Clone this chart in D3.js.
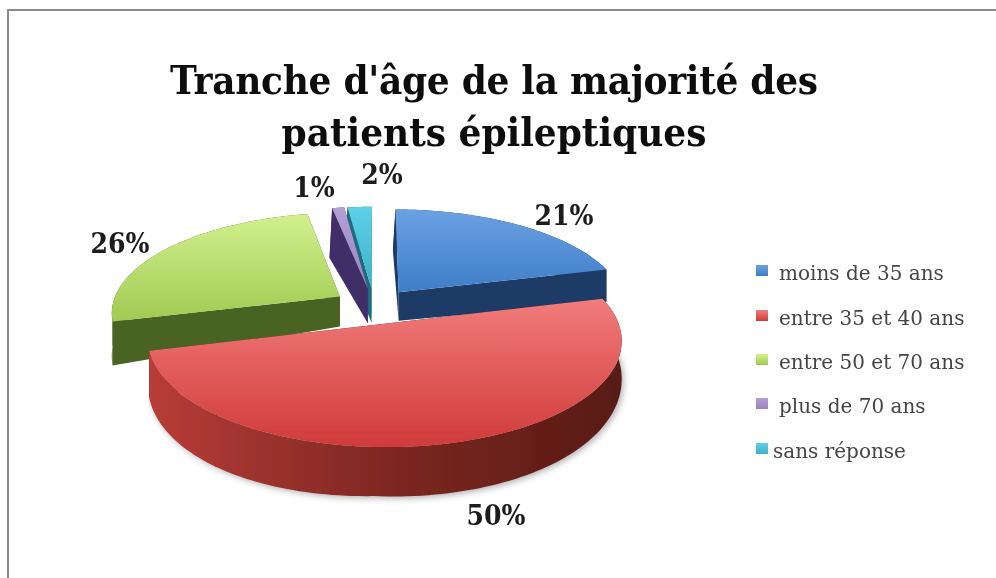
<!DOCTYPE html>
<html>
<head>
<meta charset="utf-8">
<script src="https://cdn.jsdelivr.net/npm/d3@7"></script>
<style>
  body { margin: 0; background: #fff; }
  text { font-family: "DejaVu Serif Condensed", "DejaVu Serif", serif; }
  .legend-label { font-family: "DejaVu Serif", serif; }
</style>
</head>
<body>
<div id="chart"></div>
<script>
// Chart data
var categories = ["moins de 35 ans", "entre 35 et 40 ans", "entre 50 et 70 ans", "plus de 70 ans", "sans réponse"];
var values = [21, 50, 26, 1, 2];
var titleLines = ["Tranche d'âge de la majorité des", "patients épileptiques"];

// Colours: face top, face bottom, wall light, wall dark
var faceTop = ["#6ba1e2", "#f27c7c", "#d2f08e", "#b3a0d2", "#5fd0e6"];
var faceBottom = ["#3f7dc8", "#d03a3a", "#a0ca52", "#9a84c2", "#3cb0cc"];
var wallLight = ["#1c3a66", "#b83c38", "#4a6320", "#3f2d68", "#1e6c80"];
var wallDark = ["#1c3a66", "#581a14", "#4a6320", "#3f2d68", "#1e6c80"];

var labelPos = [[564, 225], [496, 525], [120, 253], [314, 197], [382, 184]];
var legendY = [270, 315, 359, 403, 448];
var legendTextX = [779, 779, 779, 779, 773];
var titleWidth = [648, 425];

var width = 996, height = 578;

// Pie layout in ground coordinates, projected with a bit of perspective
var cx = 374, cy = 306, rxBase = 228, ryBase = 99, persp = 0.15, explode = 0.18;
var extraDepth = [0, 0, 0, 6, 6]; // the two thin slices reach down to the big one

function project(u, v) {
  var s = 1 / (1 - persp * v);
  return [cx + rxBase * u * s, cy + ryBase * v * s];
}

// thickness of the slab varies around the pie, like the 3D renderer in the original
function lower(u, v, extra) {
  var p = project(u, v);
  var d = 28 + extra + 18 * Math.max(v, 0) + 12 * Math.max(-u, 0) + 4 * Math.max(u, 0) + 20 * Math.max(-v - 0.5, 0);
  return [p[0] - 4 * Math.max(-v - 0.5, 0), p[1] + d];
}

var svg = d3.select("#chart")
  .append("svg")
  .attr("width", width)
  .attr("height", height)
  .style("display", "block");

var defs = svg.append("defs");

defs.append("filter").attr("id", "soft").append("feGaussianBlur").attr("stdDeviation", 0.45);
defs.append("filter").attr("id", "shade")
  .attr("x", "-10%").attr("y", "-10%").attr("width", "120%").attr("height", "120%")
  .append("feGaussianBlur").attr("stdDeviation", 3);

values.forEach(function(d, i) {
  var g = defs.append("linearGradient").attr("id", "face" + i)
    .attr("x1", 0).attr("y1", 0).attr("x2", 0).attr("y2", 1);
  g.append("stop").attr("offset", 0).attr("stop-color", faceTop[i]);
  g.append("stop").attr("offset", 1).attr("stop-color", faceBottom[i]);
  var w = defs.append("linearGradient").attr("id", "wall" + i)
    .attr("x1", 0).attr("y1", 0).attr("x2", 1).attr("y2", 0);
  w.append("stop").attr("offset", 0).attr("stop-color", wallLight[i]);
  w.append("stop").attr("offset", 0.5).attr("stop-color", d3.interpolateRgb(wallLight[i], wallDark[i])(0.6));
  w.append("stop").attr("offset", 1).attr("stop-color", wallDark[i]);
});

// Frame, only top and left show in the original
svg.append("path")
  .attr("d", d3.line()([[8, height], [8, 10], [width, 10]]))
  .attr("fill", "none")
  .attr("stroke", "#8a8a8a")
  .attr("stroke-width", 2)
  .attr("filter", "url(#soft)");

// Title
svg.append("g").selectAll("text")
  .data(titleLines)
  .enter()
  .append("text")
  .attr("x", 494)
  .attr("y", function(d, i) { return 94 + i * 52; })
  .attr("text-anchor", "middle")
  .attr("font-size", 40)
  .attr("font-weight", "bold")
  .attr("fill", "#111")
  .attr("textLength", function(d, i) { return titleWidth[i]; })
  .attr("filter", "url(#soft)")
  .text(function(d) { return d; });

var pie = d3.pie().sort(null).startAngle(0).endAngle(2 * Math.PI);
var slices = pie(values);
var lineGen = d3.line();
var polyPath = function(pts) { return lineGen(pts) + "Z"; };

function sliceGeom(d) {
  var mid = (d.startAngle + d.endAngle) / 2;
  var ox = explode * Math.sin(mid), oy = -explode * Math.cos(mid);
  var steps = Math.max(4, Math.ceil((d.endAngle - d.startAngle) * 40));
  var rim = d3.range(steps + 1).map(function(k) {
    var a = d.startAngle + (d.endAngle - d.startAngle) * k / steps;
    return [ox + Math.sin(a), oy - Math.cos(a)];
  });
  return { apex: [ox, oy], rim: rim };
}

function upperPt(p) { return project(p[0], p[1]); }

// Paint back to front: sans réponse, plus de 70, moins de 35, entre 50-70, entre 35-40
var paintOrder = [4, 3, 0, 2, 1];
var pieG = svg.append("g").attr("filter", "url(#soft)");

// soft shadow under the big slice
var redGeom = sliceGeom(slices[1]);
pieG.append("path")
  .attr("d", polyPath(redGeom.rim.map(function(p) {
    var q = lower(p[0], p[1], 0);
    return [q[0] + 2, q[1] + 2];
  })))
  .attr("fill", "#555")
  .attr("opacity", 0.45)
  .attr("filter", "url(#shade)");

paintOrder.forEach(function(i) {
  var geom = sliceGeom(slices[i]);
  var g = pieG.append("g").attr("class", "slice");
  var first = geom.rim[0], last = geom.rim[geom.rim.length - 1];
  var lowerPt = function(p) { return lower(p[0], p[1], extraDepth[i]); };

  // cut walls
  [first, last].forEach(function(p) {
    g.append("path")
      .attr("d", polyPath([upperPt(geom.apex), upperPt(p), lowerPt(p), lowerPt(geom.apex)]))
      .attr("fill", wallDark[i]);
  });

  // outer wall
  g.append("path")
    .attr("d", polyPath(geom.rim.map(upperPt).concat(geom.rim.map(lowerPt).reverse())))
    .attr("fill", "url(#wall" + i + ")");

  // top face
  g.append("path")
    .attr("d", polyPath([upperPt(geom.apex)].concat(geom.rim.map(upperPt))))
    .attr("fill", "url(#face" + i + ")");
});

// Percent labels
svg.append("g").selectAll("text")
  .data(values)
  .enter()
  .append("text")
  .attr("x", function(d, i) { return labelPos[i][0]; })
  .attr("y", function(d, i) { return labelPos[i][1]; })
  .attr("text-anchor", "middle")
  .attr("font-size", 28)
  .attr("font-weight", "bold")
  .attr("fill", "#1a1a1a")
  .attr("filter", "url(#soft)")
  .text(function(d) { return d + "%"; });

// Legend
var legend = svg.append("g").attr("filter", "url(#soft)");
categories.forEach(function(c, i) {
  legend.append("rect")
    .attr("x", 756)
    .attr("y", legendY[i] - 5)
    .attr("width", 12)
    .attr("height", 11)
    .attr("fill", "url(#face" + i + ")");
  legend.append("text")
    .attr("class", "legend-label")
    .attr("x", legendTextX[i])
    .attr("y", legendY[i] + 10)
    .attr("font-size", 20)
    .attr("fill", "#444")
    .text(c);
});
</script>
</body>
</html>
